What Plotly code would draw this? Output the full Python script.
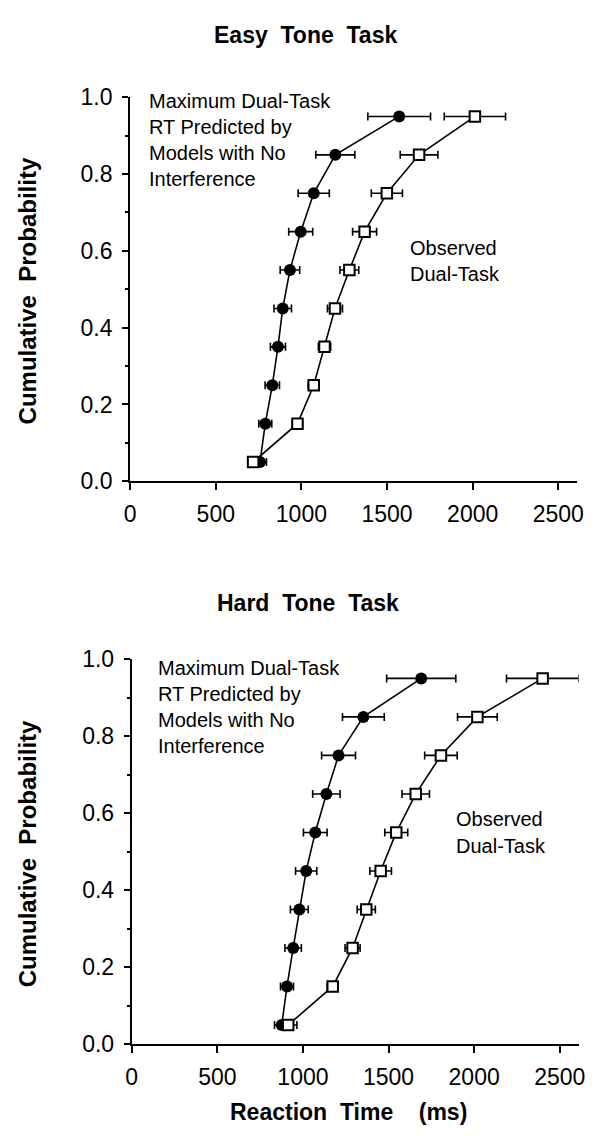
import plotly.graph_objects as go

# ---------------- data ----------------
cum_prob = [0.05, 0.15, 0.25, 0.35, 0.45, 0.55, 0.65, 0.75, 0.85, 0.95]

easy_pred_rt = [758, 789, 830, 863, 891, 933, 996, 1072, 1198, 1571]
easy_pred_err = [38, 38, 42, 44, 51, 57, 70, 91, 114, 183]
easy_obs_rt = [718, 977, 1072, 1135, 1196, 1280, 1369, 1499, 1687, 2013]
easy_obs_err = [30, 29, 32, 36, 44, 55, 70, 91, 110, 179]

hard_pred_rt = [876, 907, 943, 979, 1019, 1072, 1137, 1208, 1353, 1691]
hard_pred_err = [42, 38, 48, 52, 62, 69, 80, 99, 122, 202]
hard_obs_rt = [914, 1174, 1290, 1370, 1454, 1545, 1659, 1806, 2019, 2400]
hard_obs_err = [51, 32, 44, 53, 63, 67, 80, 95, 116, 211]

x_ticks = [0, 500, 1000, 1500, 2000, 2500]
y_ticks = [0.0, 0.2, 0.4, 0.6, 0.8, 1.0]

panel_titles = ["Easy Tone Task", "Hard Tone Task"]
pred_label = ["Maximum Dual-Task", "RT Predicted by", "Models with No", "Interference"]
obs_label = ["Observed", "Dual-Task"]
y_title = "Cumulative  Probability"
x_title = "Reaction  Time    (ms)"

# ---------------- figure ----------------
W, H = 604, 1144
OFF = 8  # page body margin compensation
FONT = "Liberation Sans, Arial, Helvetica, sans-serif"
fig = go.Figure()


def add_series(x, err, xa, ya, filled):
    fig.add_trace(go.Scatter(
        x=x, y=cum_prob, xaxis=xa, yaxis=ya, mode="lines+markers",
        line=dict(color="black", width=1.6),
        marker=dict(symbol="circle" if filled else "square",
                    size=12 if filled else 10.5,
                    color="black" if filled else "white",
                    line=dict(color="black", width=0 if filled else 2)),
        error_x=dict(type="data", array=err, visible=True,
                     color="black", thickness=1.6, width=4),
        cliponaxis=False, showlegend=False, hoverinfo="skip"))


add_series(easy_pred_rt, easy_pred_err, "x", "y", True)
add_series(easy_obs_rt, easy_obs_err, "x", "y", False)
add_series(hard_pred_rt, hard_pred_err, "x2", "y2", True)
add_series(hard_obs_rt, hard_obs_err, "x2", "y2", False)


def px(v):
    return (v - OFF) / W


def py(v):
    return 1 - (v - OFF) / H


axis_common = dict(showgrid=False, zeroline=False, showline=True,
                   linecolor="black", linewidth=2, ticks="outside",
                   tickcolor="black", tickwidth=2, mirror=False,
                   tickfont=dict(family=FONT, size=23, color="black"))

minor_y = dict(dtick=0.1, ticklen=3, tickcolor="black", tickwidth=1.5,
               ticks="outside")

fig.update_layout(
    width=W, height=H, margin=dict(l=0, r=0, t=0, b=0),
    paper_bgcolor="white", plot_bgcolor="white",
    xaxis=dict(domain=[px(126.7), px(583)], range=[0, 2607], anchor="y",
               tickvals=x_ticks, ticklen=7, ticklabelstandoff=4, **axis_common),
    yaxis=dict(domain=[py(479), py(86)], range=[0, 1.0], anchor="x",
               tickvals=y_ticks, tickformat=".1f", ticklen=6,
               ticklabelstandoff=5, minor=minor_y, **axis_common),
    xaxis2=dict(domain=[px(128.3), px(585)], range=[0, 2610], anchor="y2",
                tickvals=x_ticks, ticklen=7, ticklabelstandoff=4, **axis_common),
    yaxis2=dict(domain=[py(1055), py(661)], range=[0, 1.0], anchor="x2",
                tickvals=y_ticks, tickformat=".1f", ticklen=6,
                ticklabelstandoff=5, minor=minor_y, **axis_common),
)

ann = []


def text(s, x, y, size, bold=False, xanchor="center", angle=0):
    ann.append(dict(text=("<b>%s</b>" % s) if bold else s,
                    x=px(x), y=py(y), xref="paper", yref="paper",
                    xanchor=xanchor, yanchor="middle", showarrow=False,
                    textangle=angle,
                    font=dict(family=FONT, size=size, color="black")))


# panel titles
text(panel_titles[0].replace(" ", "\u00a0\u00a0"), 306, 22, 23, bold=True)
text(panel_titles[1].replace(" ", "\u00a0\u00a0"), 308, 604, 23, bold=True)

# y-axis titles
for yc in (284, 860):
    text(y_title.replace(" ", "\u00a0"), 22, yc, 24, bold=True, angle=-90)

# x-axis title
text(x_title.replace(" ", "\u00a0"), 350, 1124, 23, bold=True)

# in-plot labels
for i, s in enumerate(pred_label):
    text(s, 144, 90 + i * 26.7, 20, xanchor="left")
    text(s, 153, 670 + i * 26.7, 20, xanchor="left")
for i, s in enumerate(obs_label):
    text(s, 411, 240 + i * 26.7, 20, xanchor="left")
    text(s, 458, 825 + i * 26.7, 20, xanchor="left")

fig.update_layout(annotations=ann)
fig.write_html("out.html")
